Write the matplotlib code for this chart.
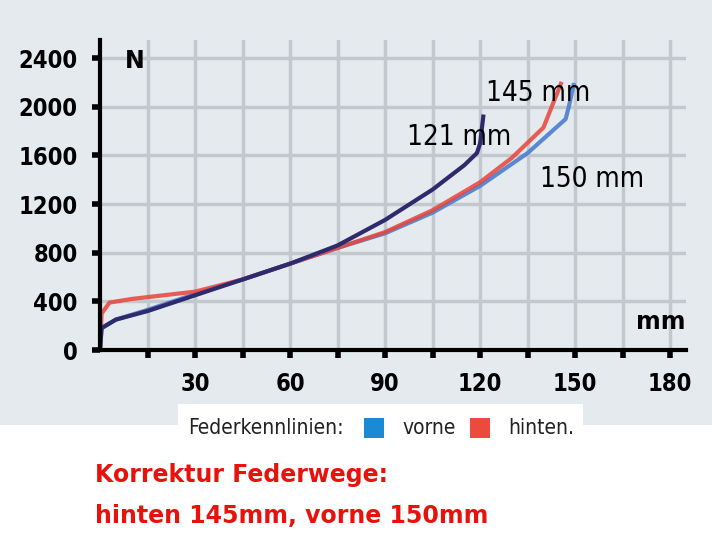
import matplotlib
matplotlib.use("Agg")
import matplotlib.pyplot as plt
from matplotlib.patches import Rectangle

x121 = [0, 0.5, 5, 15, 30, 45, 60, 75, 90, 105, 115, 119, 120, 121]
y121 = [0, 180, 250, 320, 450, 580, 710, 860, 1070, 1320, 1520, 1620, 1700, 1920]
x150 = [0, 0.5, 5, 15, 30, 45, 60, 75, 90, 105, 120, 135, 147, 148, 149.5]
y150 = [0, 180, 250, 330, 460, 580, 710, 840, 960, 1130, 1350, 1620, 1900, 2000, 2180]
x145 = [0, 0.5, 3, 10, 20, 30, 45, 60, 75, 90, 105, 120, 130, 140, 145.5]
y145 = [0, 300, 390, 420, 450, 480, 580, 710, 840, 970, 1150, 1380, 1580, 1830, 2190]
xticks_minor = list(range(15, 181, 15))
xticks_lab = [30, 60, 90, 120, 150, 180]
yticks = [0, 400, 800, 1200, 1600, 2000, 2400]

fig = plt.figure(figsize=(7.12, 5.52), dpi=100)
fig.patch.set_facecolor("#e5eaee")
fig.patches.append(Rectangle((0, 0), 1, 1 - 425/552, transform=fig.transFigure,
                             facecolor="white", edgecolor="none", zorder=0))
ax = fig.add_axes([100/712, 1 - 350/552, 586/712, 310/552])
ax.set_zorder(3)
ax.set_facecolor("none")
ax.set_xlim(0, 185)
ax.set_ylim(0, 2550)
for s in ["top", "right"]:
    ax.spines[s].set_visible(False)
for s in ["left", "bottom"]:
    ax.spines[s].set_linewidth(3)
ax.set_xticks(xticks_minor)
ax.set_xticklabels([str(v) if v in xticks_lab else "" for v in xticks_minor])
ax.set_yticks(yticks)
ax.set_yticklabels([str(v) for v in yticks])
ax.tick_params(direction="out", length=6, width=4, color="black", pad=10)
for lab in ax.get_xticklabels() + ax.get_yticklabels():
    lab.set_fontsize(17); lab.set_fontweight("bold"); lab.set_fontstretch("condensed")
ax.grid(True, color="#c2c8cd", linewidth=2.5)
ax.set_axisbelow(True)

ax.plot(x150, y150, color="#4a7fd0", lw=3, alpha=0.9)
ax.plot(x145, y145, color="#e8443a", lw=3, alpha=0.85)
ax.plot(x121, y121, color="#2d2b6e", lw=3)

ax.text(122, 2000, "145 mm", fontsize=20, ha="left", va="bottom", fontstretch="condensed")
ax.text(97, 1640, "121 mm", fontsize=20, ha="left", va="bottom", fontstretch="condensed")
ax.text(139, 1290, "150 mm", fontsize=20, ha="left", va="bottom", fontstretch="condensed")
ax.text(8, 2380, "N", fontsize=17, fontweight="bold", va="center")
ax.text(185, 230, "mm", fontsize=17, fontweight="bold", ha="right", va="center")

fig.patches.append(Rectangle((178/712, 1 - 442/552), 405/712, 38/552, transform=fig.transFigure,
                             facecolor="white", edgecolor="none", zorder=1))
ly = 1 - 428/552
fig.text(188/712, ly, "Federkennlinien:", fontsize=15, va="center", fontstretch="condensed", color="#222222")
fig.patches.append(Rectangle((364/712, ly - 10/552), 20/712, 20/552, transform=fig.transFigure,
                             facecolor="#1a8ad4", edgecolor="none", zorder=2))
fig.text(402/712, ly, "vorne", fontsize=15, va="center", fontstretch="condensed", color="#222222")
fig.patches.append(Rectangle((470/712, ly - 10/552), 20/712, 20/552, transform=fig.transFigure,
                             facecolor="#ec4a3c", edgecolor="none", zorder=2))
fig.text(508/712, ly, "hinten.", fontsize=15, va="center", fontstretch="condensed", color="#222222")

fig.text(95/712, 1 - 475/552, "Korrektur Federwege:", fontsize=17, fontweight="bold", color="#e8120c", va="center")
fig.text(95/712, 1 - 516/552, "hinten 145mm, vorne 150mm", fontsize=17, fontweight="bold", color="#e8120c", va="center")

fig.savefig("out.png", dpi=100, facecolor=fig.get_facecolor())
